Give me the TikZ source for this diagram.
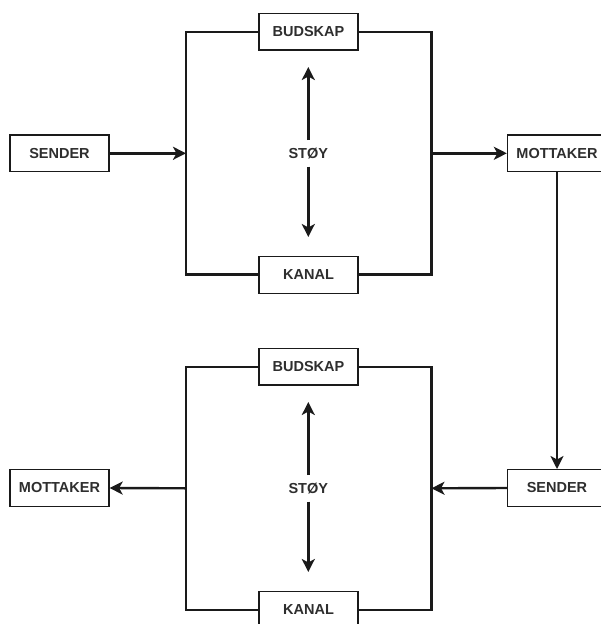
\documentclass[tikz,border=0pt]{standalone}
\usepackage{fontspec}
\setmainfont{Liberation Sans}
\usetikzlibrary{arrows.meta}
\definecolor{ink}{HTML}{1A1A1A}
\definecolor{txt}{HTML}{2E2E2E}
\tikzset{
  box/.style={draw=ink, line width=1.3pt, fill=white, minimum width=99pt, minimum height=36.7pt, inner sep=0pt, text=txt, font=\fontsize{14.5}{16}\selectfont\bfseries},
  lbl/.style={minimum height=26pt, inner sep=0pt, text=txt, font=\fontsize{14.5}{16}\selectfont\bfseries},
  wire/.style={draw=ink, line width=2.4pt},
  arr/.style={wire, -{Stealth[length=13pt, width=13pt, inset=3.5pt]}}
}
\begin{document}
\begin{tikzpicture}[x=1pt, y=-1pt]
\useasboundingbox (0,0) rectangle (600,624);
\fill[white] (0,0) rectangle (600,624);

% ---------- top block ----------
\coordinate (tl) at (186,32);
\coordinate (tr) at (431.5,32);
\coordinate (bl) at (186,274.5);
\coordinate (br) at (431.5,274.5);
\coordinate (inA) at (186,153.3);
\coordinate (outA) at (431.5,153.3);
\coordinate (upA) at (308.3,67);
\coordinate (dnA) at (308.3,237);

\draw[wire] (308.5,32) -| (tl) -- (bl) -- (308.5,274.5);
\draw[wire] (308.5,32) -| (tr) -- (br) -- (308.5,274.5);

\node[box] (bud1) at (308.5,31.7) {BUDSKAP};
\node[box] (kan1) at (308.5,275) {KANAL};
\node[box] (send1) at (59.5,153.3) {SENDER};
\node[box] (mott1) at (557,153.3) {MOTTAKER};
\node[lbl] (stoy1) at (308.3,153.3) {STØY};

\draw[arr] (send1.east) -- (inA);
\draw[arr] (outA) -- (mott1.west);
\draw[arr] (stoy1.north) -- (upA);
\draw[arr] (stoy1.south) -- (dnA);

% ---------- bottom block ----------
\coordinate (tl2) at (186,366.7);
\coordinate (tr2) at (431.5,366.7);
\coordinate (bl2) at (186,610);
\coordinate (br2) at (431.5,610);
\coordinate (outB) at (186,488.3);
\coordinate (inB) at (431.5,488.3);
\coordinate (upB) at (308.3,402);
\coordinate (dnB) at (308.3,572);

\draw[wire] (308.5,366.7) -| (tl2) -- (bl2) -- (308.5,610);
\draw[wire] (308.5,366.7) -| (tr2) -- (br2) -- (308.5,610);

\node[box] (bud2) at (308.5,366.7) {BUDSKAP};
\node[box] (kan2) at (308.5,610) {KANAL};
\node[box] (mott2) at (59.5,488) {MOTTAKER};
\node[box] (send2) at (557,488) {SENDER};
\node[lbl] (stoy2) at (308.3,488.3) {STØY};

\draw[arr] (send2.west) -- (inB);
\draw[arr] (outB) -- (mott2.east);
\draw[arr] (stoy2.north) -- (upB);
\draw[arr] (stoy2.south) -- (dnB);

% ---------- link ----------
\draw[arr] (mott1.south) -- (send2.north);
\end{tikzpicture}
\end{document}
